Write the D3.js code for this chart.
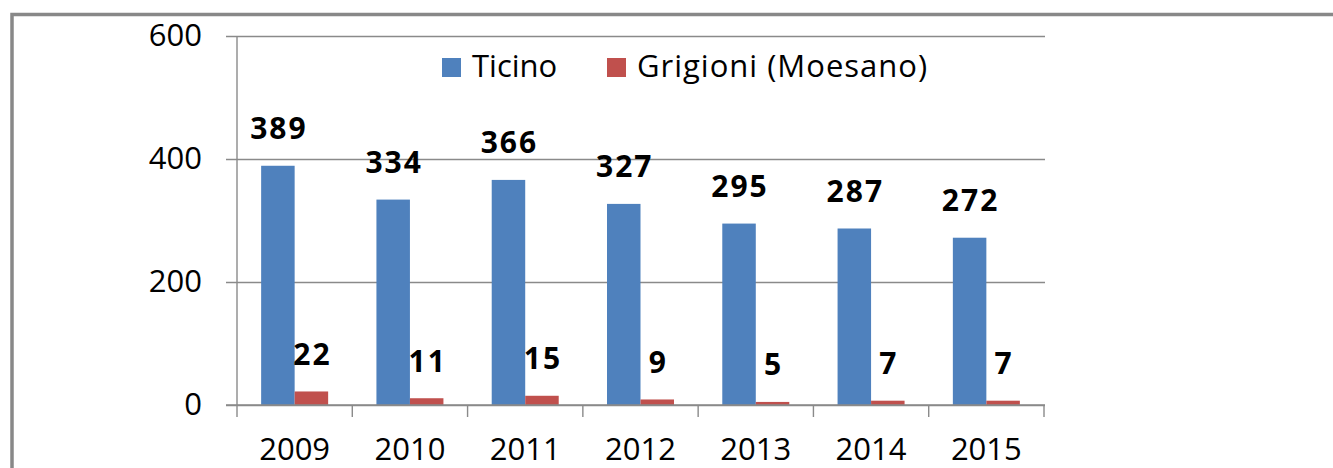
<!DOCTYPE html>
<html>
<head>
<meta charset="utf-8">
<script src="https://cdn.jsdelivr.net/npm/d3@7"></script>
<style>
  body { margin: 0; background: #fff; }
  text { font-family: "Open Sans", "Noto Sans", sans-serif; fill: #000; }
  .lbl { font-weight: bold; font-size: 30px; letter-spacing: 2px; }
</style>
</head>
<body>
<script>
// data
var years = ["2009", "2010", "2011", "2012", "2013", "2014", "2015"];
var seriesNames = ["Ticino", "Grigioni (Moesano)"];
var ticino = [389, 334, 366, 327, 295, 287, 272];
var grigioni = [22, 11, 15, 9, 5, 7, 7];
var yTicks = [0, 200, 400, 600];
var colors = ["#4f81bd", "#c0504d"];

var W = 1333, H = 468;
var svg = d3.select("body").append("svg")
    .attr("width", W)
    .attr("height", H);

// outer frame of the chart (runs off the right and bottom)
svg.append("path")
    .attr("d", "M12,480 L12,14.5 L1340,14.5")
    .attr("fill", "none")
    .attr("stroke", "#888")
    .attr("stroke-width", 3.5);

var plot = {left: 237, right: 1044, top: 36, bottom: 405};

var x = d3.scaleBand().domain(years).range([plot.left, plot.right]);
var y = d3.scaleLinear().domain([0, 600]).range([plot.bottom, plot.top]);

// gridlines + y labels
var gy = svg.append("g")
    .attr("transform", "translate(226,0)")
    .call(d3.axisLeft(y).tickValues(yTicks).tickSize(-(1045 - 226)).tickPadding(24));
gy.select(".domain").remove();
gy.selectAll(".tick line").attr("stroke", "#8a8a8a").attr("stroke-width", 1.4);
gy.selectAll(".tick text").style("font-size", "31px").attr("fill", "#000");

// y axis line
svg.append("line")
    .attr("x1", plot.left).attr("x2", plot.left)
    .attr("y1", plot.top).attr("y2", plot.bottom)
    .attr("stroke", "#8a8a8a").attr("stroke-width", 1.4);

// x ticks at category boundaries
var bounds = years.map(function(d) { return x(d); }).concat([plot.right]);
svg.selectAll(".xtick").data(bounds).enter().append("line")
    .attr("x1", function(d) { return d; }).attr("x2", function(d) { return d; })
    .attr("y1", plot.bottom).attr("y2", plot.bottom + 12)
    .attr("stroke", "#8a8a8a").attr("stroke-width", 1.4);

// x labels
svg.selectAll(".xlab").data(years).enter().append("text")
    .attr("x", function(d) { return x(d) + x.bandwidth() / 2; })
    .attr("y", 460)
    .attr("text-anchor", "middle")
    .style("font-size", "31px")
    .text(function(d) { return d; });

// bars
var half = 33.5;
var inner = d3.scaleBand().domain([0, 1]).range([-half, half]);
var series = [ticino, grigioni];

series.forEach(function(vals, s) {
  var g = svg.append("g");
  g.selectAll("rect").data(vals).enter().append("rect")
      .attr("x", function(d, i) { return x(years[i]) + x.bandwidth() / 2 + inner(s); })
      .attr("width", inner.bandwidth())
      .attr("y", function(d) { return y(d); })
      .attr("height", function(d) { return y(0) - y(d); })
      .attr("fill", colors[s]);

  g.selectAll("text").data(vals).enter().append("text")
      .attr("class", "lbl")
      .attr("x", function(d, i) { return x(years[i]) + x.bandwidth() / 2 + inner(s) + inner.bandwidth() / 2 + 1; })
      .attr("y", function(d) { return y(d) - 26.5; })
      .attr("text-anchor", "middle")
      .text(function(d) { return d; });
});

// redraw baseline on top of bars
svg.append("line")
    .attr("x1", 226).attr("x2", 1045)
    .attr("y1", y(0)).attr("y2", y(0))
    .attr("stroke", "#8a8a8a").attr("stroke-width", 1.4);

// legend
var legendPos = [442, 607];
var lg = svg.selectAll(".leg").data(seriesNames).enter().append("g")
    .attr("transform", function(d, i) { return "translate(" + legendPos[i] + ",58)"; });
lg.append("rect")
    .attr("width", 19).attr("height", 19)
    .attr("fill", function(d, i) { return colors[i]; });
lg.append("text")
    .attr("x", 30)
    .attr("y", 19)
    .style("font-size", "31px")
    .style("letter-spacing", function(d, i) { return i === 0 ? "0px" : "1px"; })
    .text(function(d) { return d; });
</script>
</body>
</html>
